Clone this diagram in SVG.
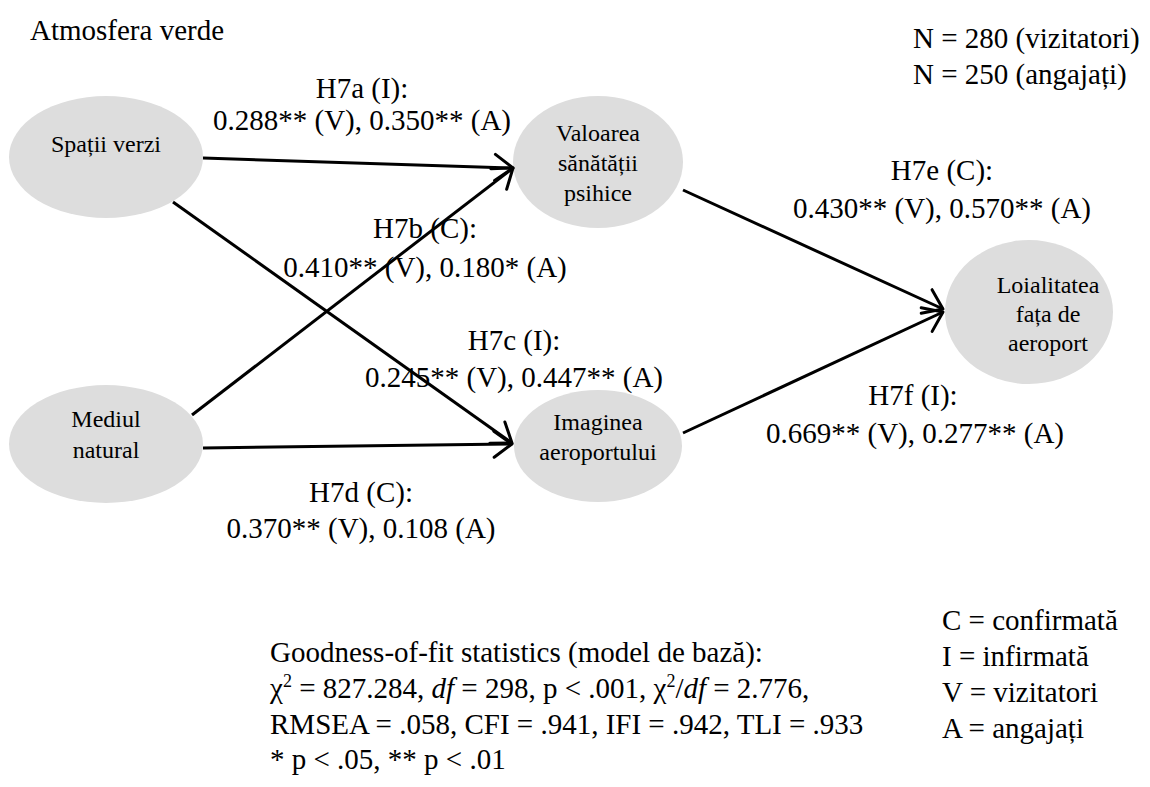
<svg xmlns="http://www.w3.org/2000/svg" width="1150" height="787" viewBox="0 0 1150 787">
<style>
text{font-family:"Liberation Serif","Times New Roman",serif;fill:#000}
.lbl{font-size:29px}
.mid{text-anchor:middle}
.node ellipse{fill:#dddddd;stroke:none}
.node text{font-size:24px;text-anchor:middle}
.edge{stroke:#000;stroke-width:3;fill:none}
</style>
<defs>
<marker id="arr" markerUnits="userSpaceOnUse" viewBox="-22 -16 26 32" refX="0" refY="0" markerWidth="26" markerHeight="32" orient="auto" overflow="visible">
<path d="M-18,-13 L0,0 L-18,13" fill="none" stroke="#000" stroke-width="3" stroke-linecap="round" stroke-linejoin="round"/>
</marker>
</defs>
<rect width="1150" height="787" fill="#fff"/>
<g id="n1" class="node"><ellipse cx="106" cy="157" rx="97" ry="61"/><text x="106" y="152">Spații verzi</text></g>
<g id="n2" class="node"><ellipse cx="106" cy="444" rx="97" ry="59"/><text x="106" y="427">Mediul</text><text x="106" y="458">natural</text></g>
<g id="n3" class="node"><ellipse cx="598" cy="162" rx="85" ry="66"/><text x="598" y="141">Valoarea</text><text x="598" y="171">sănătății</text><text x="598" y="201">psihice</text></g>
<g id="n4" class="node"><ellipse cx="598" cy="446" rx="84" ry="56"/><text x="598" y="430">Imaginea</text><text x="598" y="460">aeroportului</text></g>
<g id="n5" class="node"><ellipse cx="1029" cy="312" rx="84" ry="72"/><text x="1048" y="293">Loialitatea</text><text x="1048" y="322">fața de</text><text x="1048" y="351">aeroport</text></g>
<g id="connectors">
<line class="edge" x1="203" y1="158" x2="513" y2="168" marker-end="url(#arr)"/>
<line class="edge" x1="192" y1="415" x2="513" y2="168" marker-end="url(#arr)"/>
<line class="edge" x1="173" y1="202" x2="512" y2="443" marker-end="url(#arr)"/>
<line class="edge" x1="203" y1="448" x2="512" y2="444" marker-end="url(#arr)"/>
<line class="edge" x1="683" y1="190" x2="943" y2="309" marker-end="url(#arr)"/>
<line class="edge" x1="683" y1="433" x2="943" y2="312" marker-end="url(#arr)"/>
</g>
<g id="labels" class="lbl">
<text x="30" y="40">Atmosfera verde</text>
<text x="913" y="48">N = 280 (vizitatori)</text>
<text x="913" y="84">N = 250 (angajați)</text>
<text class="mid" x="362" y="98">H7a (I):</text>
<text class="mid" x="362" y="130">0.288** (V), 0.350** (A)</text>
<text class="mid" x="425" y="238">H7b (C):</text>
<text class="mid" x="425" y="277">0.410** (V), 0.180* (A)</text>
<text class="mid" x="514" y="350">H7c (I):</text>
<text class="mid" x="514" y="387">0.245** (V), 0.447** (A)</text>
<text class="mid" x="361" y="502">H7d (C):</text>
<text class="mid" x="361" y="538">0.370** (V), 0.108 (A)</text>
<text class="mid" x="942" y="180">H7e (C):</text>
<text class="mid" x="942" y="218">0.430** (V), 0.570** (A)</text>
<text class="mid" x="913" y="405">H7f (I):</text>
<text class="mid" x="915" y="443">0.669** (V), 0.277** (A)</text>
<text x="270" y="662">Goodness-of-fit statistics (model de bază):</text>
<text x="270" y="698">χ<tspan font-size="18" dy="-11">2</tspan><tspan dy="11"> = 827.284, </tspan><tspan font-style="italic">df</tspan> = 298, p &lt; .001, χ<tspan font-size="18" dy="-11">2</tspan><tspan dy="11">/</tspan><tspan font-style="italic">df</tspan> = 2.776,</text>
<text x="270" y="734">RMSEA = .058, CFI = .941, IFI = .942, TLI = .933</text>
<text x="270" y="769">* p &lt; .05, ** p &lt; .01</text>
<text x="942" y="630">C = confirmată</text>
<text x="942" y="666">I = infirmată</text>
<text x="942" y="702">V = vizitatori</text>
<text x="942" y="738">A = angajați</text>
</g>
</svg>
